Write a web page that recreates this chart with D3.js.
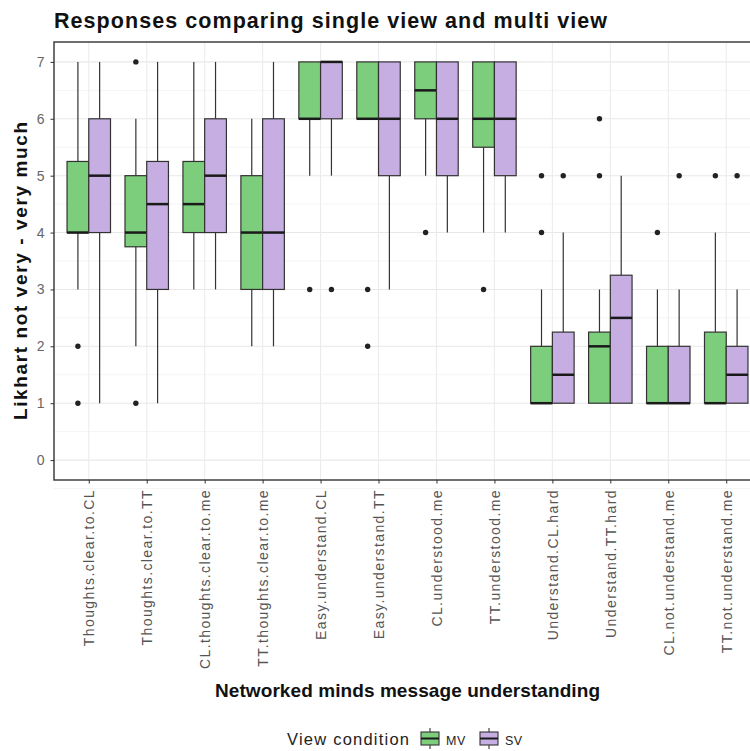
<!DOCTYPE html>
<html>
<head>
<meta charset="utf-8">
<script src="https://cdn.jsdelivr.net/npm/d3@7"></script>
<style>
  body { margin: 0; background: #fff; }
  svg { display: block; font-family: "Liberation Sans", Arial, sans-serif; }
</style>
</head>
<body>
<div id="chart"></div>
<script>
const categories = [
  'Thoughts.clear.to.CL', 'Thoughts.clear.to.TT', 'CL.thoughts.clear.to.me',
  'TT.thoughts.clear.to.me', 'Easy.understand.CL', 'Easy.understand.TT',
  'CL.understood.me', 'TT.understood.me', 'Understand.CL.hard',
  'Understand.TT.hard', 'CL.not.understand.me', 'TT.not.understand.me'
]
const groups = ['MV', 'SV']
const groupColors = ['#7ccd7c', '#c6aee2']

// [lower whisker, q1, median, q3, upper whisker]
const mvStats = [
  [3, 4, 4, 5.25, 7], [2, 3.75, 4, 5, 6], [3, 4, 4.5, 5.25, 7], [2, 3, 4, 5, 6],
  [5, 6, 6, 7, 7], [6, 6, 6, 7, 7], [5, 6, 6.5, 7, 7], [4, 5.5, 6, 7, 7],
  [1, 1, 1, 2, 3], [1, 1, 2, 2.25, 3], [1, 1, 1, 2, 3], [1, 1, 1, 2.25, 4]
]
const svStats = [
  [1, 4, 5, 6, 7], [1, 3, 4.5, 5.25, 7], [3, 4, 5, 6, 7], [2, 3, 4, 6, 7],
  [5, 6, 7, 7, 7], [3, 5, 6, 7, 7], [4, 5, 6, 7, 7], [4, 5, 6, 7, 7],
  [1, 1, 1.5, 2.25, 4], [1, 1, 2.5, 3.25, 5], [1, 1, 1, 2, 3], [1, 1, 1.5, 2, 3]
]
const mvOutliers = [[2, 1], [7, 1], [], [], [3], [3, 2], [4], [3], [5, 4], [6, 5], [4], [5]]
const svOutliers = [[], [], [], [], [3], [], [], [], [5], [], [5], [5]]
const yTicks = [0, 1, 2, 3, 4, 5, 6, 7]

const width = 750
const height = 751
const mLeft = 54, mRight = 761, mTop = 42, mBottom = 480

const svg = d3.select('#chart').append('svg')
  .attr('width', width)
  .attr('height', height)
  .style('overflow', 'hidden')

const x = d3.scalePoint().domain(categories).range([mLeft, mRight]).padding(0.6)
const dodge = d3.scaleBand().domain(groups).range([-x.step() * 0.375, x.step() * 0.375])
const y = d3.scaleLinear().domain([-0.35, 7.35]).range([mBottom, mTop])

// --- grid ---
const minor = d3.range(-0.5, 7.5, 1)
svg.append('g').selectAll('line').data(minor).join('line')
  .attr('x1', mLeft).attr('x2', mRight)
  .attr('y1', d => y(d)).attr('y2', d => y(d))
  .attr('stroke', '#f4f4f4').attr('stroke-width', 1)
svg.append('g').selectAll('line').data(yTicks).join('line')
  .attr('x1', mLeft).attr('x2', mRight)
  .attr('y1', d => y(d)).attr('y2', d => y(d))
  .attr('stroke', '#e8e8e8').attr('stroke-width', 1.1)
svg.append('g').selectAll('line').data(categories).join('line')
  .attr('x1', d => x(d)).attr('x2', d => x(d))
  .attr('y1', mTop).attr('y2', mBottom)
  .attr('stroke', '#ececec').attr('stroke-width', 1.1)

// --- boxes ---
const boxData = []
categories.forEach((c, i) => {
  boxData.push({ cat: c, group: 'MV', s: mvStats[i], out: mvOutliers[i] })
  boxData.push({ cat: c, group: 'SV', s: svStats[i], out: svOutliers[i] })
})
const bw = dodge.bandwidth()
const color = d3.scaleOrdinal().domain(groups).range(groupColors)

const box = svg.append('g').selectAll('g').data(boxData).join('g')
  .attr('transform', d => `translate(${x(d.cat) + dodge(d.group)},0)`)

box.append('line')
  .attr('x1', bw / 2).attr('x2', bw / 2)
  .attr('y1', d => y(d.s[4])).attr('y2', d => y(d.s[3]))
  .attr('stroke', '#333').attr('stroke-width', 1.2)
box.append('line')
  .attr('x1', bw / 2).attr('x2', bw / 2)
  .attr('y1', d => y(d.s[1])).attr('y2', d => y(d.s[0]))
  .attr('stroke', '#333').attr('stroke-width', 1.2)
box.append('rect')
  .attr('x', 0).attr('width', bw)
  .attr('y', d => y(d.s[3]))
  .attr('height', d => y(d.s[1]) - y(d.s[3]))
  .attr('fill', d => color(d.group))
  .attr('stroke', '#333').attr('stroke-width', 1.2)
box.append('line')
  .attr('x1', 0).attr('x2', bw)
  .attr('y1', d => y(d.s[2])).attr('y2', d => y(d.s[2]))
  .attr('stroke', '#1a1a1a').attr('stroke-width', 2.5)
box.selectAll('circle').data(d => d.out).join('circle')
  .attr('cx', bw / 2)
  .attr('cy', d => y(d))
  .attr('r', 2.7)
  .attr('fill', '#222')

// --- axes ---
const yAxis = svg.append('g')
  .attr('transform', `translate(${mLeft},0)`)
  .call(d3.axisLeft(y).tickValues(yTicks).tickSize(3.5).tickPadding(6))
yAxis.select('.domain').remove()
yAxis.selectAll('.tick line').attr('stroke', '#333')
yAxis.selectAll('.tick text')
  .attr('fill', '#666').style('font-size', '14px')
  .style('font-family', '"Liberation Sans", Arial, sans-serif')

const xAxis = svg.append('g')
  .attr('transform', `translate(0,${mBottom})`)
  .call(d3.axisBottom(x).tickSize(3.5).tickPadding(0))
xAxis.select('.domain').remove()
xAxis.selectAll('.tick line').attr('stroke', '#333')
xAxis.selectAll('.tick text')
  .attr('transform', 'rotate(-90)')
  .attr('text-anchor', 'end')
  .attr('x', -9).attr('y', 0).attr('dy', '0.35em')
  .attr('fill', '#555').style('font-size', '14px').style('letter-spacing', '1.4px')
  .style('font-family', '"Liberation Sans", Arial, sans-serif')

// panel border
svg.append('rect')
  .attr('x', mLeft).attr('y', mTop)
  .attr('width', mRight - mLeft).attr('height', mBottom - mTop)
  .attr('fill', 'none').attr('stroke', '#333').attr('stroke-width', 1.4)

// --- titles ---
svg.append('text')
  .attr('x', mLeft).attr('y', 28)
  .attr('font-size', 21.5).attr('font-weight', 'bold').attr('fill', '#111')
  .attr('textLength', 553).attr('lengthAdjust', 'spacing')
  .text('Responses comparing single view and multi view')

svg.append('text')
  .attr('transform', `translate(27,${(mTop + mBottom) / 2 + 10}) rotate(-90)`)
  .attr('text-anchor', 'middle')
  .attr('font-size', 19).attr('font-weight', 'bold').attr('fill', '#111')
  .attr('textLength', 298).attr('lengthAdjust', 'spacing')
  .text('Likhart not very - very much')

svg.append('text')
  .attr('x', (mLeft + mRight) / 2).attr('y', 697)
  .attr('text-anchor', 'middle')
  .attr('font-size', 19).attr('font-weight', 'bold').attr('fill', '#111')
  .attr('textLength', 385).attr('lengthAdjust', 'spacing')
  .text('Networked minds message understanding')

// --- legend ---
const legend = svg.append('g').attr('transform', 'translate(287,0)')
legend.append('text')
  .attr('x', 0).attr('y', 745)
  .attr('font-size', 16.5).attr('fill', '#222')
  .attr('textLength', 122).attr('lengthAdjust', 'spacing')
  .text('View condition')

const key = legend.selectAll('g.key').data(groups).join('g')
  .attr('class', 'key')
  .attr('transform', (d, i) => `translate(${134 + i * 59},728)`)
key.append('line')
  .attr('x1', 9).attr('x2', 9).attr('y1', 0).attr('y2', 21)
  .attr('stroke', '#333').attr('stroke-width', 1.1)
key.append('rect')
  .attr('x', 0).attr('y', 4).attr('width', 18).attr('height', 13)
  .attr('fill', d => color(d)).attr('stroke', '#333').attr('stroke-width', 1.1)
key.append('line')
  .attr('x1', 0).attr('x2', 18).attr('y1', 10.5).attr('y2', 10.5)
  .attr('stroke', '#1a1a1a').attr('stroke-width', 2)
key.append('text')
  .attr('x', 25).attr('y', 17)
  .attr('font-size', 12.5).attr('fill', '#222')
  .attr('letter-spacing', '0.5px')
  .text(d => d)
</script>
</body>
</html>
